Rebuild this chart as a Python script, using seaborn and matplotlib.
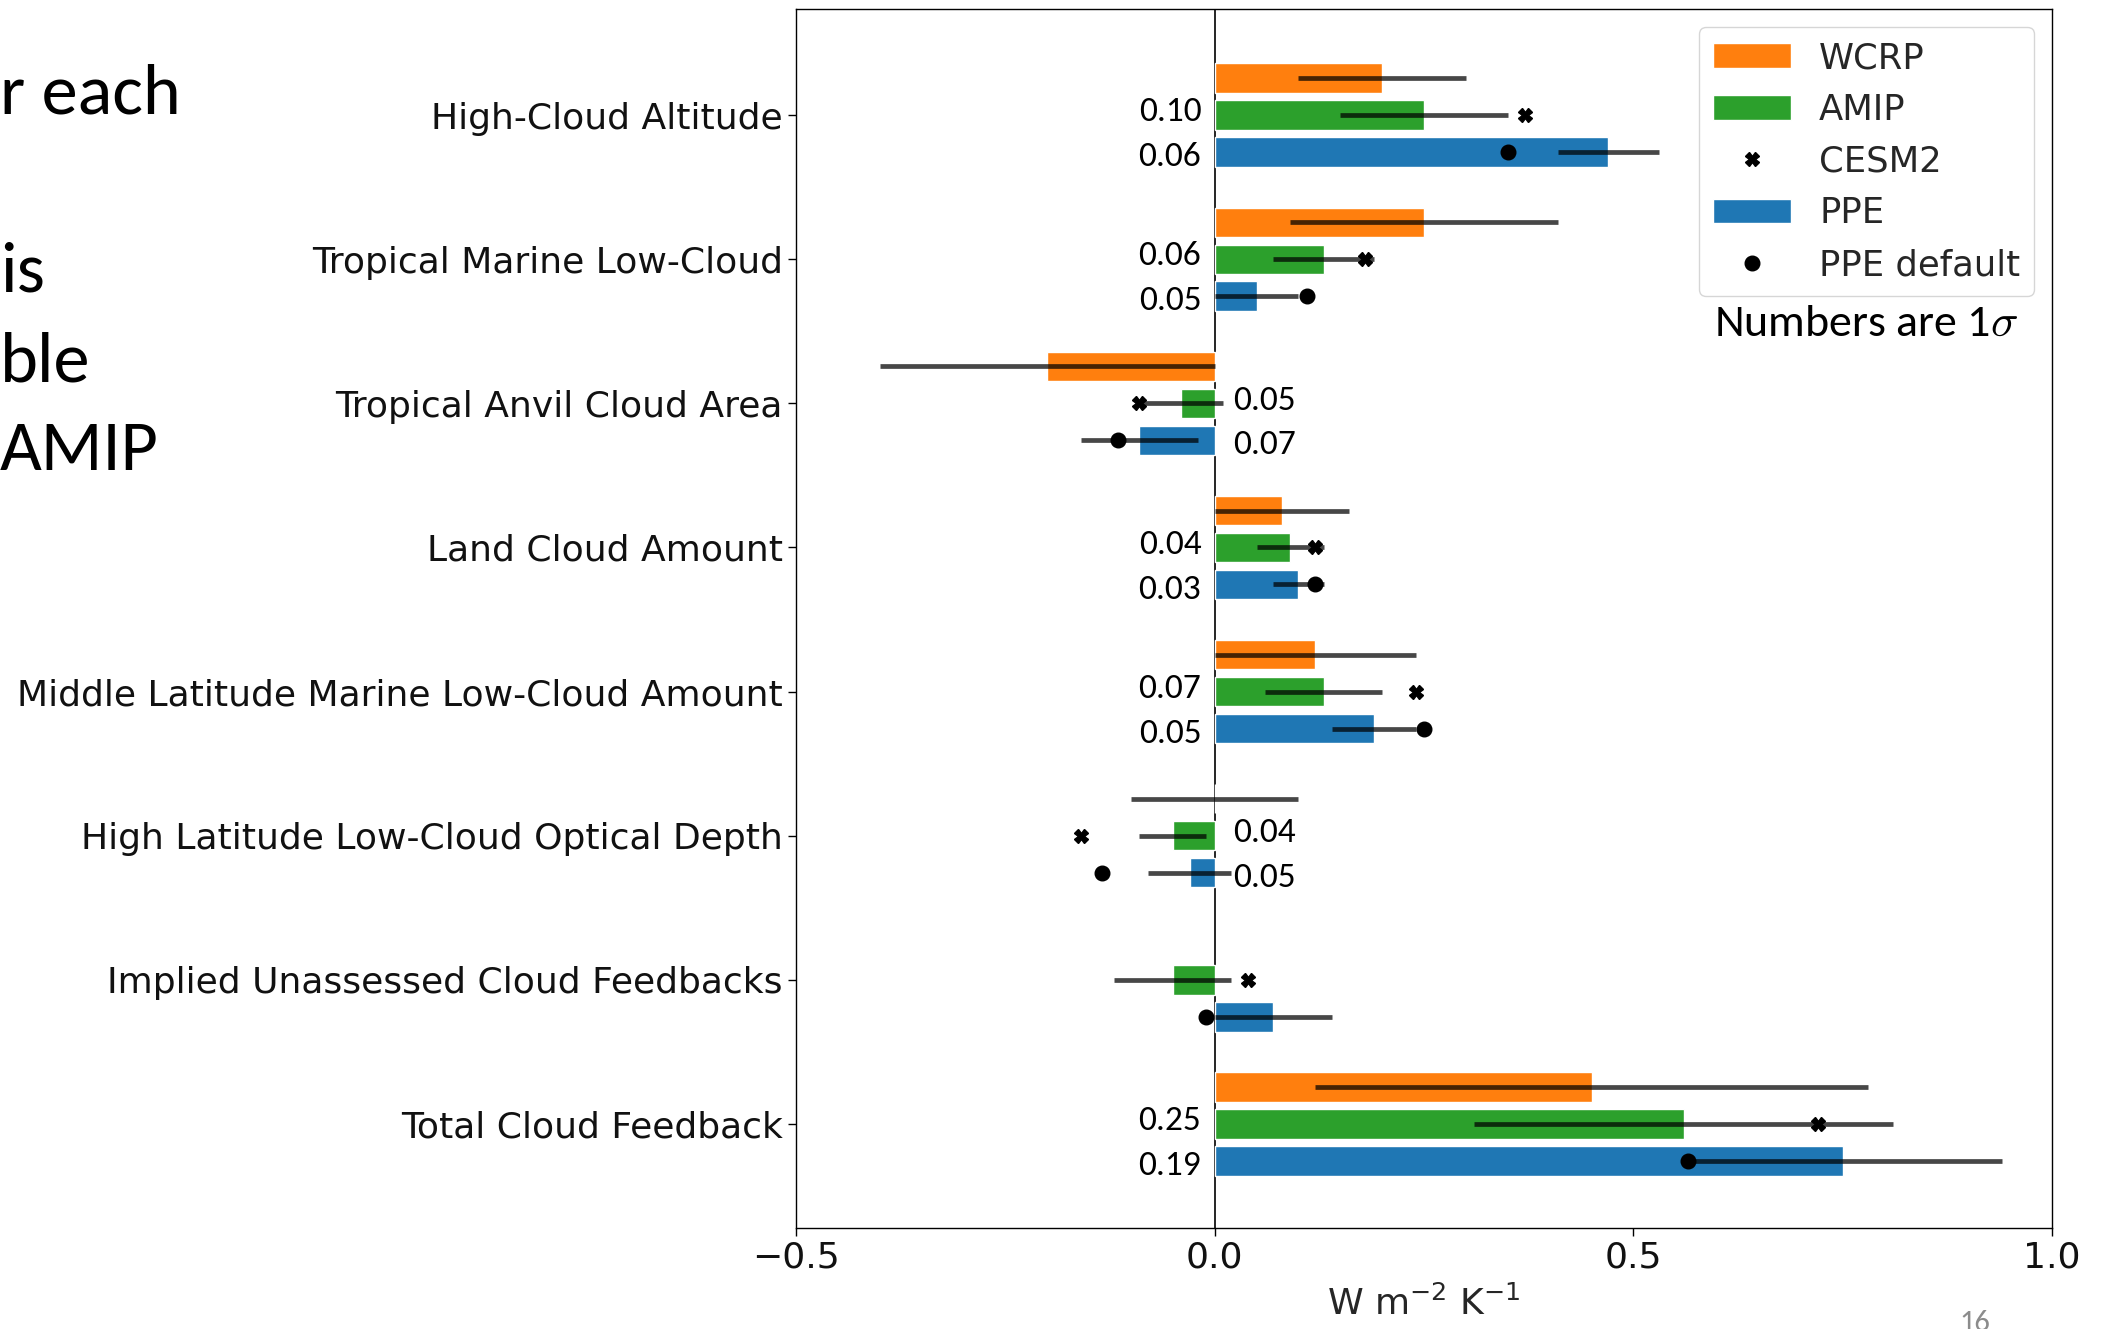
import numpy as np
import pandas as pd
import matplotlib
matplotlib.use("Agg")
import matplotlib.pyplot as plt
import seaborn as sns
from matplotlib import font_manager

# Cloud feedback components (W m-2 K-1)
categories = [
    "High-Cloud Altitude",
    "Tropical Marine Low-Cloud",
    "Tropical Anvil Cloud Area",
    "Land Cloud Amount",
    "Middle Latitude Marine Low-Cloud Amount",
    "High Latitude Low-Cloud Optical Depth",
    "Implied Unassessed Cloud Feedbacks",
    "Total Cloud Feedback",
]
sources = ["WCRP", "AMIP", "PPE"]

wcrp_mean = [0.20, 0.25, -0.20, 0.08, 0.12, 0.00, np.nan, 0.45]
wcrp_err = [0.10, 0.16, 0.20, 0.08, 0.12, 0.10, np.nan, 0.33]

amip_mean = [0.25, 0.13, -0.04, 0.09, 0.13, -0.05, -0.05, 0.56]
amip_sd = [0.10, 0.06, 0.05, 0.04, 0.07, 0.04, 0.07, 0.25]

ppe_mean = [0.47, 0.05, -0.09, 0.10, 0.19, -0.03, 0.07, 0.75]
ppe_sd = [0.06, 0.05, 0.07, 0.03, 0.05, 0.05, 0.07, 0.19]

cesm2 = [0.37, 0.18, -0.09, 0.12, 0.24, -0.16, 0.04, 0.72]
ppe_default = [0.35, 0.11, -0.115, 0.12, 0.25, -0.135, -0.01, 0.565]

# which rows carry a printed 1-sigma value
sigma_shown = [True, True, True, True, True, True, False, True]

slide_lines = ["r each", "is", "ble", "AMIP"]

sns.set_style("ticks")
plt.rcParams["font.family"] = ["DejaVu Sans"]

_names = {f.name for f in font_manager.fontManager.ttflist}
slide_font = next((f for f in ["Carlito", "Lato", "Open Sans"] if f in _names), "DejaVu Sans")

palette = {"WCRP": "#ff7f0e", "AMIP": "#2ca02c", "PPE": "#1f77b4"}

rows = []
for src, means in zip(sources, [wcrp_mean, amip_mean, ppe_mean]):
    for cat, v in zip(categories, means):
        if not np.isnan(v):
            rows.append({"category": cat, "source": src, "value": v})
df = pd.DataFrame(rows)

FS = 26
fig = plt.figure(figsize=(21.06, 13.29), dpi=100)
ax = fig.add_axes([0.378, 0.0763, 0.5964, 0.9167])

group_width = 0.77
sns.barplot(
    data=df, x="value", y="category", hue="source",
    order=categories, hue_order=sources, palette=palette,
    orient="h", width=group_width, gap=0.2, errorbar=None,
    saturation=1, ax=ax, zorder=2,
)

step = group_width / len(sources)
offsets = [(i - (len(sources) - 1) / 2) * step for i in range(len(sources))]
ypos = np.arange(len(categories))

ax.axvline(0, color="black", lw=1.2, zorder=1.5)

for off, means, errs in zip(offsets, [wcrp_mean, amip_mean, ppe_mean],
                            [wcrp_err, amip_sd, ppe_sd]):
    ax.errorbar(means, ypos + off, xerr=errs, fmt="none", ecolor="black",
                elinewidth=3.4, alpha=0.72, capsize=0, zorder=3)

ax.plot(cesm2, ypos + offsets[1], ls="none", marker="X", ms=9.5,
        color="black", label="CESM2", zorder=4)
ax.plot(ppe_default, ypos + offsets[2], ls="none", marker="o", ms=10.5,
        color="black", label="PPE default", zorder=4)

# printed 1-sigma spreads next to the zero line
for off, shift, means, sds in [(offsets[1], -0.02, amip_mean, amip_sd),
                               (offsets[2], 0.035, ppe_mean, ppe_sd)]:
    for k in range(len(categories)):
        if not sigma_shown[k]:
            continue
        if means[k] > 0:
            ax.text(-0.016, ypos[k] + off + shift, f"{sds[k]:.2f}", ha="right",
                    va="center", fontsize=25.5, family=slide_font, color="black")
        else:
            ax.text(0.022, ypos[k] + off + shift, f"{sds[k]:.2f}", ha="left",
                    va="center", fontsize=25.5, family=slide_font, color="black")

ax.set_xlim(-0.5, 1.0)
ax.set_ylim(len(categories) - 1 + 0.72, -0.735)
ax.set_xticks([-0.5, 0.0, 0.5, 1.0])
ax.set_ylabel("")
ax.set_xlabel("W m$^{-2}$ K$^{-1}$", fontsize=FS, labelpad=8)
ax.tick_params(axis="both", labelsize=FS, length=6, width=1, color="black",
               labelcolor="#111111")
for s in ax.spines.values():
    s.set_visible(True)
    s.set_color("black")
    s.set_linewidth(1.0)

handles, labels = ax.get_legend_handles_labels()
hmap = dict(zip(labels, handles))
order = ["WCRP", "AMIP", "CESM2", "PPE", "PPE default"]
ax.legend([hmap[k] for k in order], order, loc="upper right", fontsize=25.5,
          frameon=True, borderaxespad=0.5, handlelength=2.2)

ax.text(0.852, 0.742, "Numbers are 1$\\sigma$", transform=ax.transAxes,
        ha="center", va="center", fontsize=33, family=slide_font,
        math_fontfamily="cm", color="black")

# slide body text at left edge
for txt, yc in zip(slide_lines, [94, 273, 363, 451]):
    fig.text(0.0, 1 - yc / 1329, txt, ha="left", va="center",
             fontsize=52, family=slide_font, color="black")

fig.text(1975 / 2106, 1 - 1310 / 1329, "16", ha="center", va="top",
         fontsize=22, family=slide_font, color="#8c8c8c")

fig.savefig("out.png", dpi=100)
